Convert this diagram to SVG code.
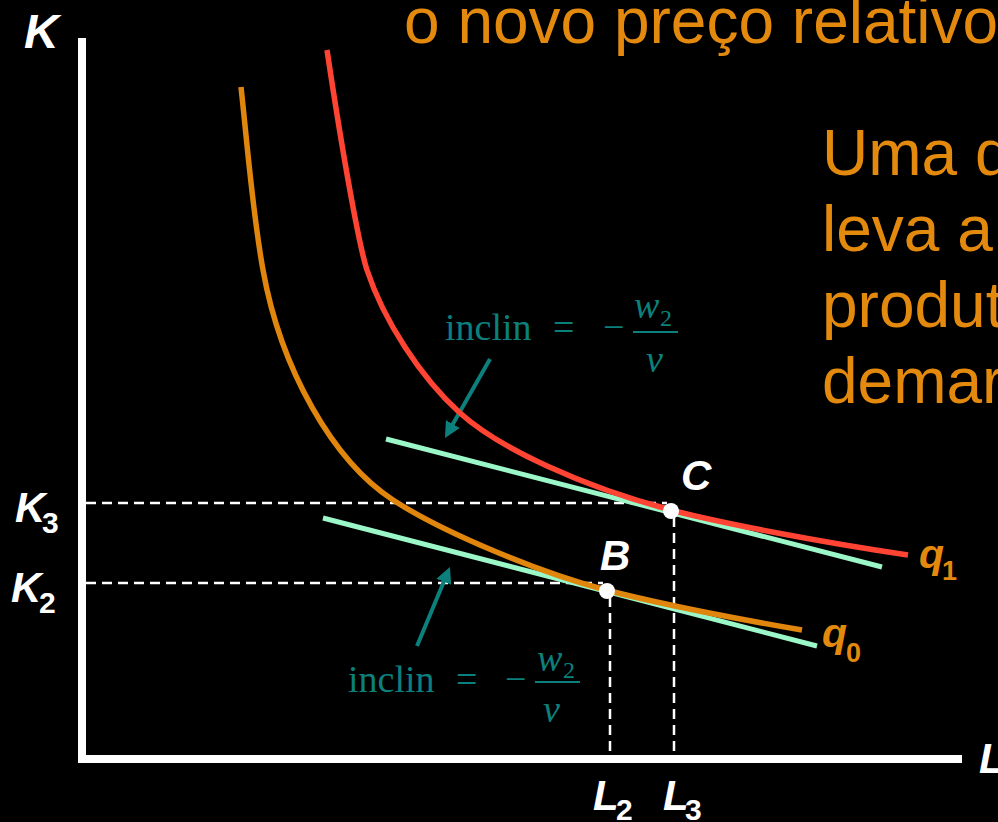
<svg xmlns="http://www.w3.org/2000/svg" width="998" height="822" viewBox="0 0 998 822">
<style>
.org{fill:#E38A0E;font-family:"Liberation Sans",Arial,sans-serif;font-size:64px}
.lab{fill:#fff;font-family:"Liberation Sans",Arial,sans-serif;font-weight:bold;font-style:italic;font-size:42px}
.sub{fill:#fff;font-family:"Liberation Sans",Arial,sans-serif;font-weight:bold;font-style:normal;font-size:30px}
.ql{fill:#E38A0E;font-family:"Liberation Sans",Arial,sans-serif;font-weight:bold;font-style:italic;font-size:41px}
.qs{fill:#E38A0E;font-family:"Liberation Sans",Arial,sans-serif;font-weight:bold;font-style:normal;font-size:27px}
.tl{fill:#0C807C;font-family:"Liberation Serif","Times New Roman",serif;font-size:38px}
.ti{fill:#0C807C;font-family:"Liberation Serif","Times New Roman",serif;font-style:italic;font-size:38px}
.ts{fill:#0C807C;font-family:"Liberation Serif","Times New Roman",serif;font-size:24px}
.axis{stroke:#fff;stroke-width:8;fill:none}
.dash{stroke:#fff;stroke-width:2.5;stroke-dasharray:10 6;fill:none}
.tan{stroke:#9CF7C8;stroke-width:5;fill:none}
.arr{stroke:#0C807C;stroke-width:4;fill:none;marker-end:url(#ah)}
.bar{stroke:#0C807C;stroke-width:2}
.crv{stroke-width:5.5;fill:none}
</style>
<defs>
<marker id="ah" viewBox="0 0 16 16" refX="6" refY="8" markerWidth="16" markerHeight="16" markerUnits="userSpaceOnUse" orient="auto">
<path d="M0,0 L16,8 L0,16 z" fill="#0C807C"/>
</marker>
</defs>
<rect x="0" y="0" width="998" height="822" fill="#000"/>

<g id="title">
<text class="org" x="404" y="43">o novo preço relativo</text>
</g>
<g id="body-text">
<text class="org" x="822" y="175">Uma d</text>
<text class="org" x="822" y="251">leva a</text>
<text class="org" x="822" y="327">produt</text>
<text class="org" x="822" y="403">demar</text>
</g>

<g id="axes">
<path class="axis" d="M82,38 L82,759 L962,759"/>
<text class="lab" x="24" y="48" style="font-size:48px">K</text>
<text class="lab" x="979" y="773">L</text>
</g>

<g id="connectors">
<path class="dash" d="M86,503 L667,503"/>
<path class="dash" d="M86,583 L603,583"/>
<path class="dash" d="M674,517 L674,755"/>
<path class="dash" d="M610,597 L610,755"/>
<path class="tan" d="M386,439 L882,567"/>
<path class="tan" d="M323,518 L817,646"/>
<path class="arr" d="M490,359 L449.9,429.3"/>
<path class="arr" d="M417,646 L446.1,576.2"/>
</g>

<g id="q0">
<path class="crv" stroke="#E0860C" d="M241,87 C247.6,147 252.2,210 263,270 C280.8,368.9 332.8,460.9 393,500 C442,531.8 537.9,572.3 606,590 C651,601.6 729.4,617.6 802,630"/>
<text class="ql" x="822" y="647">q<tspan class="qs" x="846" y="662">0</tspan></text>
</g>

<g id="q1">
<path class="crv" stroke="#FF4433" d="M327,50 C343.3,158.7 359.3,246.7 367,270 C383.7,320.6 420.9,377.8 460,413 C499.5,448.5 583.9,487.3 671,510 C722.6,523.4 817.4,541.4 908,555"/>
<text class="ql" x="919" y="568">q<tspan class="qs" x="942" y="580">1</tspan></text>
</g>

<g id="slope-upper">
<text class="tl" x="445" y="340">inclin</text>
<text class="tl" x="553" y="340">=</text>
<text class="tl" x="603" y="340">−</text>
<line class="bar" x1="633" y1="332" x2="678" y2="332"/>
<text class="ti" x="634" y="318">w</text>
<text class="ts" x="660" y="326">2</text>
<text class="ti" x="646" y="372">v</text>
</g>

<g id="slope-lower">
<text class="tl" x="348" y="692">inclin</text>
<text class="tl" x="456" y="692">=</text>
<text class="tl" x="505" y="692">−</text>
<line class="bar" x1="535" y1="682" x2="580" y2="682"/>
<text class="ti" x="537" y="671">w</text>
<text class="ts" x="563" y="678">2</text>
<text class="ti" x="543" y="722">v</text>
</g>

<g id="point-C">
<circle cx="671" cy="511" r="8" fill="#fff"/>
<text class="lab" x="681" y="490">C</text>
</g>
<g id="point-B">
<circle cx="607" cy="591" r="8" fill="#fff"/>
<text class="lab" x="600" y="570">B</text>
</g>

<g id="K3">
<text class="lab" x="15" y="522">K<tspan class="sub" x="42" y="533">3</tspan></text>
</g>
<g id="K2">
<text class="lab" x="11" y="602">K<tspan class="sub" x="39" y="613">2</tspan></text>
</g>
<g id="L2">
<text class="lab" x="593" y="810">L<tspan class="sub" x="616" y="820">2</tspan></text>
</g>
<g id="L3">
<text class="lab" x="663" y="810">L<tspan class="sub" x="685" y="820">3</tspan></text>
</g>
</svg>
